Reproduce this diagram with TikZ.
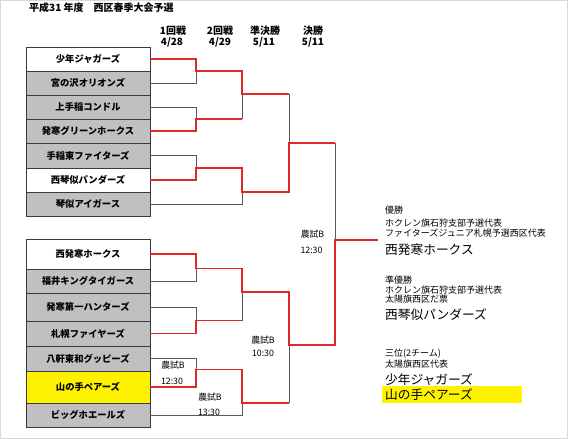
\documentclass[tikz,border=0pt]{standalone}
\usepackage{fontspec}
\setmainfont{Noto Sans CJK JP}
\definecolor{boxgray}{HTML}{C0C0C0}
\definecolor{boxline}{HTML}{3A3A3A}
\definecolor{loseline}{HTML}{5A5A5A}
\definecolor{winline}{HTML}{E02828}
\definecolor{framec}{HTML}{D8D8D8}
\tikzset{
  team/.style={draw=boxline, line width=0.9pt, minimum width=124pt, inner sep=0pt, font=\fontsize{9.3}{10}\selectfont\bfseries},
  gbox/.style={team, fill=boxgray},
  wbox/.style={team, fill=white},
  ybox/.style={team, fill=yellow},
  lose/.style={draw=loseline, line width=0.9pt},
  win/.style={draw=winline, line width=1.6pt, line join=miter},
  hdr/.style={font=\fontsize{10}{11}\selectfont\bfseries, inner sep=0pt},
  venue/.style={font=\fontsize{8.8}{10}\selectfont, inner sep=0pt},
  small/.style={font=\fontsize{9}{10}\selectfont, inner sep=0pt, anchor=west},
  big/.style={font=\fontsize{12.7}{14}\selectfont, inner sep=0pt, anchor=west},
}
\begin{document}
\begin{tikzpicture}[x=1pt,y=-1pt]
\useasboundingbox (0,0) rectangle (568,439);
\fill[white] (0,0) rectangle (568,439);
\draw[framec, line width=0.8pt] (0.5,0.5) rectangle (567.5,438.5);

% title and headers
\node[hdr, anchor=west] (title) at (29,7.5) {平成31 年度　西区春季大会予選};
\node[hdr] (h1) at (173,30.7) {1回戦};
\node[hdr] (d1) at (172,42.7) {4/28};
\node[hdr] (h2) at (220,30.7) {2回戦};
\node[hdr] (d2) at (220,42.7) {4/29};
\node[hdr] (h3) at (265,30.7) {準決勝};
\node[hdr] (d3) at (264,42.7) {5/11};
\node[hdr] (h4) at (313,30.7) {決勝};
\node[hdr] (d4) at (313,42.7) {5/11};

% top block
\node[wbox, minimum height=24pt] (t1) at (88,59) {少年ジャガーズ};
\node[gbox, minimum height=24pt] (t2) at (88,83) {宮の沢オリオンズ};
\node[gbox, minimum height=24pt] (t3) at (88,107) {上手稲コンドル};
\node[gbox, minimum height=24pt] (t4) at (88,131) {発寒グリーンホークス};
\node[gbox, minimum height=25pt] (t5) at (88,155.5) {手稲東ファイターズ};
\node[wbox, minimum height=24pt] (t6) at (88,180) {西琴似パンダーズ};
\node[gbox, minimum height=24pt] (t7) at (88,204) {琴似アイガース};

% bottom block
\node[wbox, minimum height=30pt] (b1) at (88,254) {西発寒ホークス};
\node[gbox, minimum height=24pt] (b2) at (88,281) {福井キングタイガース};
\node[gbox, minimum height=28pt] (b3) at (88,307) {発寒第一ハンターズ};
\node[gbox, minimum height=25pt] (b4) at (88,333.5) {札幌ファイヤーズ};
\node[gbox, minimum height=25pt] (b5) at (88,358.5) {八軒東和グッピーズ};
\node[ybox, minimum height=32pt] (b6) at (88,387) {山の手ペアーズ};
\node[gbox, minimum height=24pt] (b7) at (88,415) {ビッグホエールズ};

% junctions
\coordinate (m1) at (196,71);
\coordinate (m2) at (196,119);
\coordinate (m3) at (196,168);
\coordinate (a1) at (242,94);
\coordinate (a2) at (242,192);
\coordinate (s1) at (289,143);
\coordinate (f)  at (335,240);
\coordinate (fo) at (378,240);
\coordinate (m4) at (196,268.5);
\coordinate (m5) at (196,320.5);
\coordinate (m6) at (196,369.5);
\coordinate (a3) at (242,292);
\coordinate (a4) at (242,403);
\coordinate (s2) at (289,345);

% losing lines
\draw[lose] (t2.east) -| (m1);
\draw[lose] (t3.east) -| (m2);
\draw[lose] (m2 -| a1) -- (a1);
\draw[lose] (t5.east) -| (m3);
\draw[lose] (t7.east) -| (a2);
\draw[lose] (a1 -| s1) -- (s1);
\draw[lose] (s1 -| f) -- (f);
\draw[lose] (b2.east) -| (m4);
\draw[lose] (b3.east) -| (m5);
\draw[lose] (m5 -| a3) -- (a3);
\draw[lose] (b5.east) -| (m6);
\draw[lose] (b7.east) -| (a4);
\draw[lose] (a4 -| s2) -- (s2);

% winning lines
\draw[win] (t1.east) -| (m1) -| (a1) -- (a1 -| s1);
\draw[win] (t4.east) -| (m2) -- (m2 -| a1);
\draw[win] (t6.east) -| (m3) -| (a2) -| (s1) -- (s1 -| f);
\draw[win] (b1.east) -| (m4) -| (a3) -| (s2) -| (f) -- (fo);
\draw[win] (b4.east) -| (m5) -- (m5 -| a3);
\draw[win] (b6.east) -| (m6) -| (a4) -- (a4 -| s2);

% venues
\node[venue] (v1a) at (173,365) {農試B};
\node[venue] (v1b) at (172,381) {12:30};
\node[venue] (v2a) at (210,397) {農試B};
\node[venue] (v2b) at (209,412) {13:30};
\node[venue] (v3a) at (263,340) {農試B};
\node[venue] (v3b) at (263,353.5) {10:30};
\node[venue] (v4a) at (312.5,234) {農試B};
\node[venue] (v4b) at (311.5,250.5) {12:30};

% results
\node[small] (r1) at (385,210) {優勝};
\node[small] (r2) at (385,222.7) {ホクレン旗石狩支部予選代表};
\node[small] (r3) at (385,233.3) {ファイターズジュニア札幌予選西区代表};
\node[big] (r4) at (385,250) {西発寒ホークス};
\node[small] (r5) at (385,280) {準優勝};
\node[small] (r6) at (385,290) {ホクレン旗石狩支部予選代表};
\node[small] (r7) at (385,299.5) {太陽旗西区だ票};
\node[big] (r8) at (385,315) {西琴似パンダーズ};
\node[small] (r9) at (385,353.3) {三位(2チーム)};
\node[small] (r10) at (385,364.3) {太陽旗西区代表};
\node[big] (r11) at (385,380) {少年ジャガーズ};
\fill[yellow] (381.7,386) rectangle (521.7,403.3);
\node[big] (r12) at (385,395) {山の手ペアーズ};
\end{tikzpicture}
\end{document}
